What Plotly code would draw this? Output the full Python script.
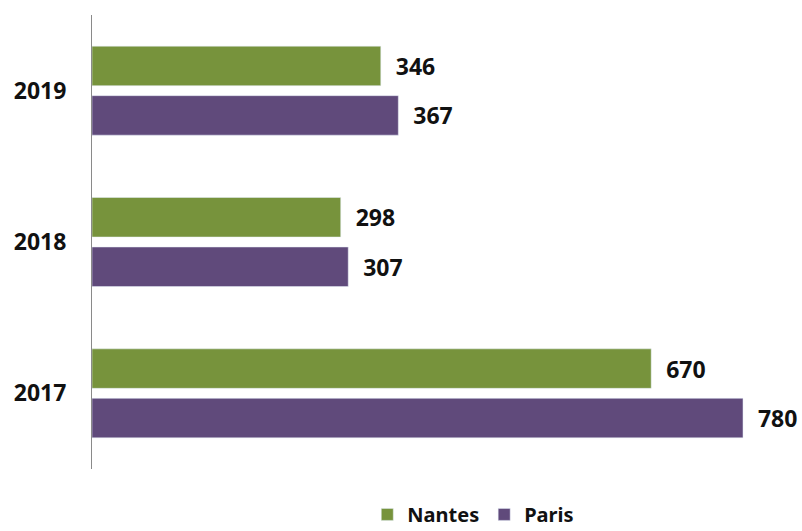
import plotly.graph_objects as go

years = ["2017", "2018", "2019"]
nantes = [670, 298, 346]
paris = [780, 307, 367]

GREEN = "#77933C"
PURPLE = "#604A7B"
FONT = "Noto Sans"

fig = go.Figure()
fig.add_trace(go.Bar(
    y=years, x=paris, name="Paris", orientation="h",
    marker=dict(color=PURPLE),
    text=paris, texttemplate="\u00a0\u00a0%{text}", textposition="outside",
    textfont=dict(family=FONT, size=23, color="#111111", weight="bold"),
    cliponaxis=False,
))
fig.add_trace(go.Bar(
    y=years, x=nantes, name="Nantes", orientation="h",
    marker=dict(color=GREEN),
    text=nantes, texttemplate="\u00a0\u00a0%{text}", textposition="outside",
    textfont=dict(family=FONT, size=23, color="#111111", weight="bold"),
    cliponaxis=False,
))

fig.update_layout(
    width=802, height=531,
    margin=dict(l=92, r=0, t=15, b=62, autoexpand=False),
    paper_bgcolor="white", plot_bgcolor="white",
    barmode="group", bargap=0.346, bargroupgap=0.202,
    showlegend=True,
    legend=dict(orientation="h", x=0.537, xanchor="center", y=-0.1, yanchor="middle",
                traceorder="reversed", bgcolor="rgba(0,0,0,0)",
                font=dict(family=FONT, size=20, color="#111111", weight="bold"),
                itemwidth=30),
    xaxis=dict(range=[0, 850.7], visible=False, showgrid=False, zeroline=False),
    yaxis=dict(type="category", categoryorder="array", categoryarray=years,
               showline=True, linecolor="#8a8a8a", linewidth=1,
               ticks="", showgrid=False, ticklabelstandoff=20,
               tickfont=dict(family=FONT, size=23, color="#111111", weight="bold")),
)

fig.write_html("out.html", config={"displayModeBar": False},
               post_script="document.body.style.margin='0';document.body.style.overflow='hidden';")
